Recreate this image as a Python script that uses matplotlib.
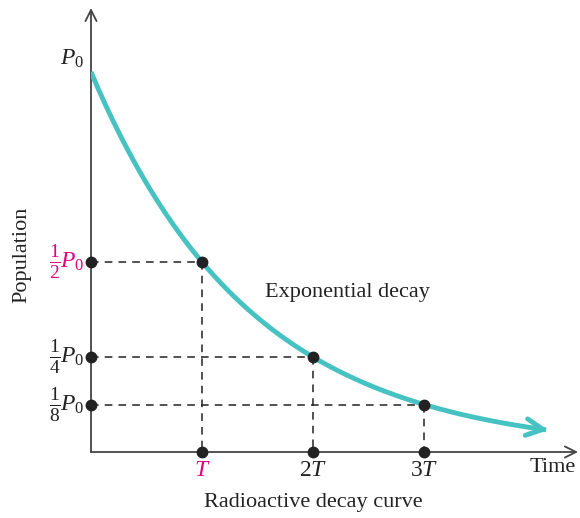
import numpy as np
import matplotlib
matplotlib.use("Agg")
import matplotlib.pyplot as plt

plt.rcParams['mathtext.fontset'] = 'custom'
plt.rcParams['mathtext.rm'] = 'Liberation Serif'
plt.rcParams['mathtext.it'] = 'Liberation Serif:italic'
plt.rcParams['font.family'] = ['Liberation Serif', 'DejaVu Serif']

# Data (units of half-life T and initial population P0)
half_lives = [1, 2, 3]
fractions = [1/2, 1/4, 1/8]
x_labels = ['$T$', '$2T$', '$3T$']
y_fracs = [r'$\frac{1}{2}$', r'$\frac{1}{4}$', r'$\frac{1}{8}$']
label_colors = ['#E5007E', '#222222', '#222222']
t_end = 4.12

teal = '#45C2C1'
W, H = 580, 518
fig = plt.figure(figsize=(W/100, H/100), dpi=100)
ox, oy = 91, 452
T_px, P_px = 111, 380
ax = fig.add_axes([ox/W, (H-oy)/H, (578-ox)/W, (oy-8)/H])
xmax = (578-ox)/T_px
ymax = (oy-8)/P_px
ax.set_xlim(0, xmax)
ax.set_ylim(0, ymax)
ax.axis('off')

# axes with open arrowheads
ax.annotate('', xy=(xmax, 0), xytext=(0, 0),
            arrowprops=dict(arrowstyle='->', color='#444444', lw=1.3,
                            mutation_scale=20, shrinkA=0, shrinkB=0), annotation_clip=False)
ax.annotate('', xy=(0, ymax), xytext=(0, 0),
            arrowprops=dict(arrowstyle='->', color='#444444', lw=1.3,
                            mutation_scale=20, shrinkA=0, shrinkB=0), annotation_clip=False)

# curve
t = np.linspace(0, t_end - 0.02, 400)
p = 0.5 ** t
ax.plot(t, p, color=teal, lw=3.5, solid_capstyle='butt', zorder=3)
ax.annotate('', xy=(t_end, 0.5**t_end), xytext=(t_end-0.08, 0.5**(t_end-0.08)),
            arrowprops=dict(arrowstyle='->', color=teal, lw=3.5, mutation_scale=30,
                            shrinkA=0, shrinkB=0), zorder=3)

# dashed guides and dots
for h, f in zip(half_lives, fractions):
    ax.plot([0, h], [f, f], ls=(0, (5, 4)), color='#222222', lw=1.1, zorder=2)
    ax.plot([h, h], [f, 0], ls=(0, (5, 4)), color='#222222', lw=1.1, zorder=2)
    ax.plot([0, h, h], [f, f, 0], 'o', color='#222222', ms=7.5, zorder=4, clip_on=False)

# tick labels
for h, lab, c in zip(half_lives, x_labels, label_colors):
    ax.annotate(lab, xy=(h, 0), xytext=(0, -24), textcoords='offset pixels',
                ha='center', va='baseline', fontsize=17, color=c)
for f, lab, c in zip(fractions, y_fracs, label_colors):
    ax.annotate('$P_0$', xy=(0, f), xytext=(-7, 0), textcoords='offset pixels',
                ha='right', va='center', fontsize=17, color=c)
    ax.annotate(lab, xy=(0, f), xytext=(-30, 0), textcoords='offset pixels',
                ha='right', va='center', fontsize=20, color=c)
ax.annotate('$P_0$', xy=(0, 1.0), xytext=(-7, 2), textcoords='offset pixels',
            ha='right', va='bottom', fontsize=17, color='#222222')

fig.text(22/W, 1-255/H, 'Population', rotation=90, ha='center', va='center', fontsize=16, color='#222222')
fig.text(553/W, 1-467/H, 'Time', ha='center', va='center', fontsize=16, color='#222222')
fig.text(313/W, 1-503/H, 'Radioactive decay curve', ha='center', va='center', fontsize=16, color='#222222')
fig.text(347/W, 1-292/H, 'Exponential decay', ha='center', va='center', fontsize=16, color='#222222')

fig.savefig('out.png', dpi=100)
